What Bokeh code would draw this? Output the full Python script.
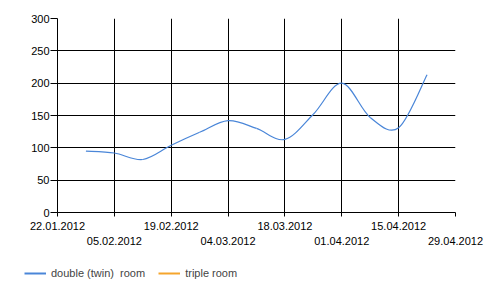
import datetime as dt
from bokeh.plotting import figure
from bokeh.layouts import column
from bokeh.models import Range1d, FixedTicker, Legend, LegendItem, ColumnDataSource
from bokeh.embed import file_html
from bokeh.resources import INLINE

# data
dates = ["29.01.2012", "05.02.2012", "12.02.2012", "19.02.2012", "26.02.2012",
         "04.03.2012", "11.03.2012", "18.03.2012", "25.03.2012", "01.04.2012",
         "08.04.2012", "15.04.2012", "22.04.2012"]
double_room = [95, 92, 82, 104, 124, 142, 130, 113, 152, 200, 147, 131, 213]
triple_room = []
tick_labels = ["22.01.2012", "05.02.2012", "19.02.2012", "04.03.2012",
               "18.03.2012", "01.04.2012", "15.04.2012", "29.04.2012"]
y_ticks = [0, 50, 100, 150, 200, 250, 300]
series_names = ["double (twin)  room", "triple room"]

def to_ms(s):
    d = dt.datetime.strptime(s, "%d.%m.%Y").replace(tzinfo=dt.timezone.utc)
    return d.timestamp() * 1000.0

xs = [to_ms(d) for d in dates]
ys = double_room
tick_ms = [to_ms(t) for t in tick_labels]

FONT = "Liberation Sans"
BLUE = "#4a86d8"
ORANGE = "#f5a52c"

p = figure(width=500, height=255, x_axis_type="datetime", output_backend="svg",
           toolbar_location=None, min_border_left=57, min_border_right=45,
           min_border_top=18, min_border_bottom=43)
p.x_range = Range1d(tick_ms[0], tick_ms[-1])
p.y_range = Range1d(0, 300)
p.outline_line_color = None
p.background_fill_color = "white"
p.border_fill_color = "white"
p.frame_align = False

# Catmull-Rom style spline rendered as bezier segments through the points
t = 0.5
n = len(xs)
x0, y0, x1, y1, cx0, cy0, cx1, cy1 = [], [], [], [], [], [], [], []
for i in range(n - 1):
    pxm = xs[i - 1] if i > 0 else xs[i]
    pym = ys[i - 1] if i > 0 else ys[i]
    pxp = xs[i + 2] if i + 2 < n else xs[i + 1]
    pyp = ys[i + 2] if i + 2 < n else ys[i + 1]
    x0.append(xs[i]); y0.append(ys[i]); x1.append(xs[i + 1]); y1.append(ys[i + 1])
    cx0.append(xs[i] + t / 3 * (xs[i + 1] - pxm))
    cy0.append(ys[i] + t / 3 * (ys[i + 1] - pym))
    cx1.append(xs[i + 1] - t / 3 * (pxp - xs[i]))
    cy1.append(ys[i + 1] - t / 3 * (pyp - ys[i]))
src = ColumnDataSource(dict(x0=x0, y0=y0, x1=x1, y1=y1, cx0=cx0, cy0=cy0, cx1=cx1, cy1=cy1))
p.bezier(x0="x0", y0="y0", x1="x1", y1="y1", cx0="cx0", cy0="cy0", cx1="cx1", cy1="cy1",
         source=src, line_color=BLUE, line_width=1.2)
p.line(xs[:len(triple_room)], triple_room, line_color=ORANGE, line_width=1.2)

# axes
p.xaxis.ticker = FixedTicker(ticks=tick_ms)
p.xaxis.major_label_overrides = {tm: (lab if i % 2 == 0 else "\n" + lab)
                                 for i, (tm, lab) in enumerate(zip(tick_ms, tick_labels))}
p.yaxis.ticker = FixedTicker(ticks=y_ticks)
for ax in (p.xaxis[0], p.yaxis[0]):
    ax.axis_line_color = "black"
    ax.major_tick_line_color = "black"
    ax.minor_tick_line_color = None
    ax.major_tick_in = 0
    ax.major_label_text_font = FONT
    ax.major_label_text_font_size = "11px"
    ax.major_label_text_color = "black"
p.xaxis.major_tick_out = 4
p.xaxis.major_label_standoff = 3
p.xaxis.major_label_text_line_height = 1.3
p.yaxis.major_tick_out = 7
p.yaxis.major_label_standoff = 1

p.xgrid.ticker = FixedTicker(ticks=tick_ms)
p.ygrid.ticker = FixedTicker(ticks=y_ticks)
p.xgrid.grid_line_color = "black"
p.ygrid.grid_line_color = "black"

# legend in a separate strip below the chart
lg = figure(width=500, height=41, output_backend="svg", toolbar_location=None,
            min_border=0, x_range=Range1d(0, 1), y_range=Range1d(0, 1))
lg.frame_align = False
lg.axis.visible = False
lg.grid.visible = False
lg.outline_line_color = None
# legend-only renderers, kept outside the visible range of this strip
r1 = lg.line([5, 6], [5, 6], line_color=BLUE, line_width=2)
r2 = lg.line([5, 6], [5, 6], line_color=ORANGE, line_width=2)
legend = Legend(items=[LegendItem(label=series_names[0], renderers=[r1]),
                       LegendItem(label=series_names[1], renderers=[r2])],
                orientation="horizontal", location=(24, 16), padding=0,
                spacing=13, glyph_width=22, glyph_height=14, label_height=14,
                label_standoff=5, border_line_color=None, background_fill_alpha=0,
                label_text_font=FONT, label_text_font_size="11px", margin=0)
lg.add_layout(legend, "center")

layout = column(p, lg, spacing=0)
open("out.html", "w").write(file_html(layout, INLINE))
